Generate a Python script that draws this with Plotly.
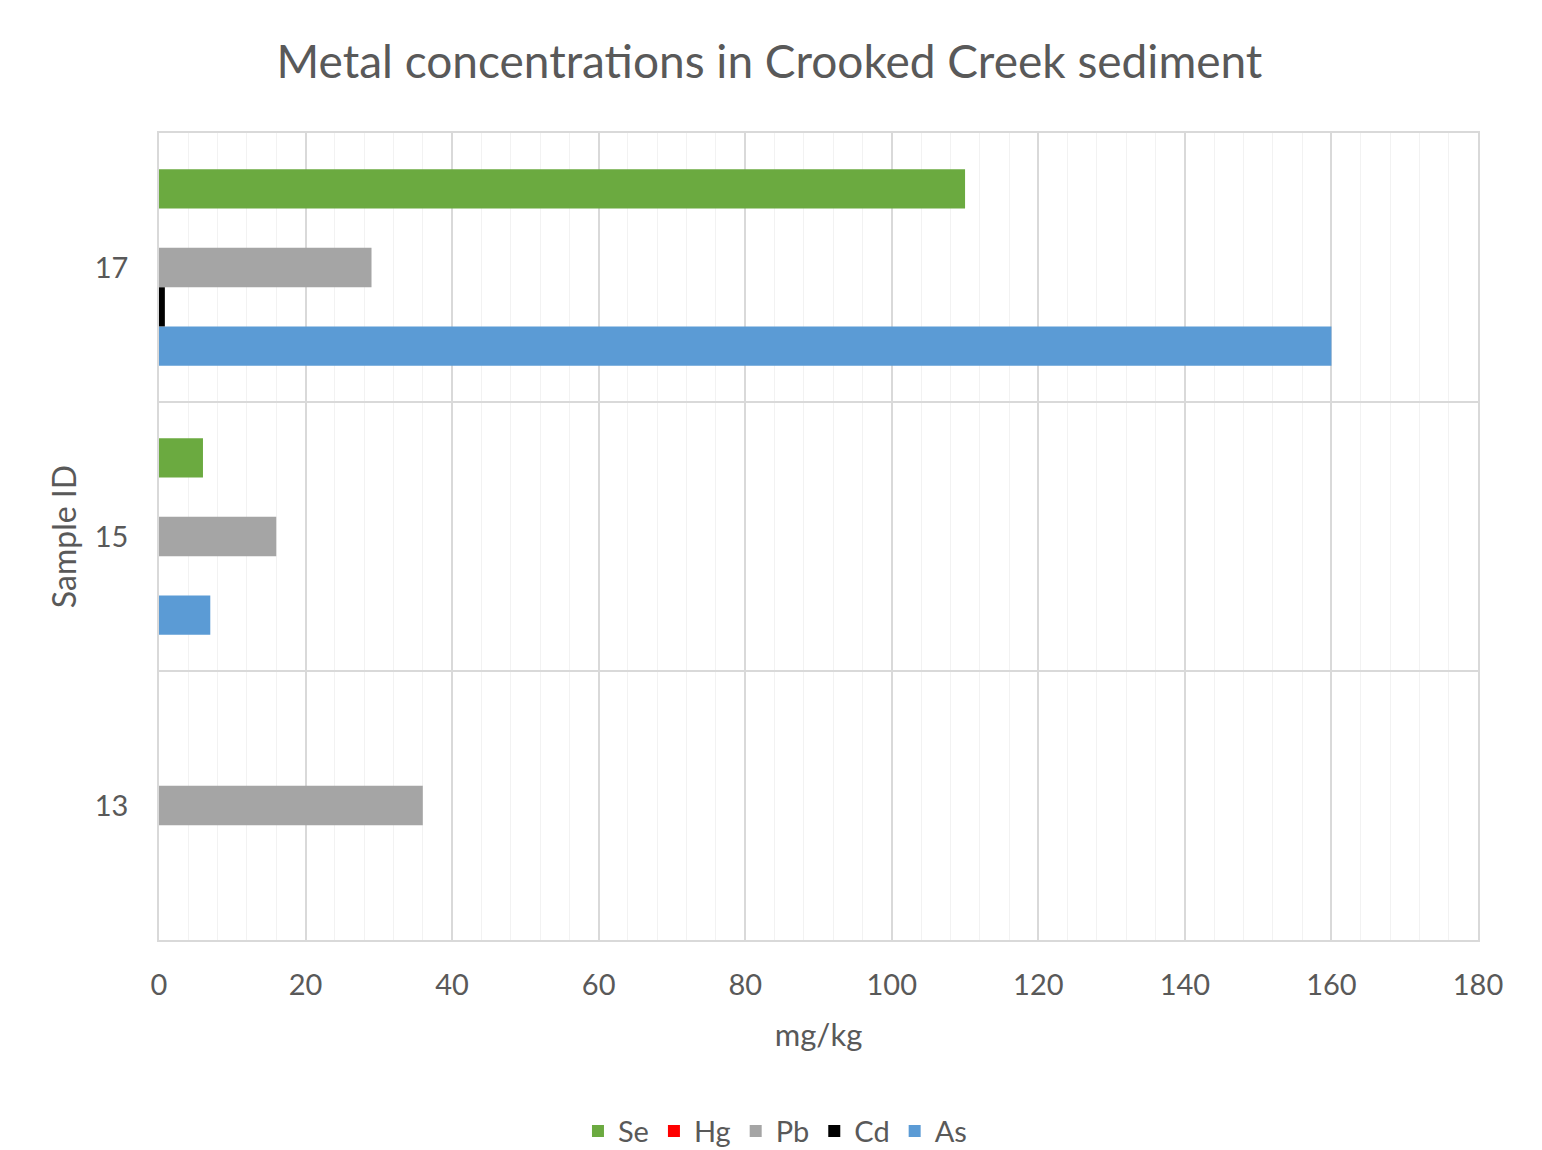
import plotly.graph_objects as go

samples = ["13", "15", "17"]
se = [None, 6.0, 110.0]
hg = [None, None, 0.0]
pb = [36.0, 16.0, 29.0]
cd = [None, None, 0.8]
as_ = [None, 7.0, 160.0]

series = [
    ("As", as_, "#5B9BD5"),
    ("Cd", cd, "#000000"),
    ("Pb", pb, "#A5A5A5"),
    ("Hg", hg, "#FF0000"),
    ("Se", se, "#6BAA40"),
]

FONT = "Lato, 'Open Sans', sans-serif"
TXT = "#595959"

fig = go.Figure()
for name, vals, col in series:
    fig.add_trace(go.Bar(
        y=samples, x=vals, name=name, orientation="h",
        marker=dict(color=col, line=dict(width=0)),
    ))

fig.update_layout(
    width=1542, height=1150,
    margin=dict(l=159, r=64, t=133, b=210, autoexpand=False),
    paper_bgcolor="white", plot_bgcolor="white",
    barmode="group", bargap=0.27, bargroupgap=0,
    font=dict(family=FONT, color=TXT),
    title=dict(text="Metal concentrations in Crooked Creek sediment",
               x=0.499, xanchor="center", xref="container",
               y=0.946, yanchor="middle", yref="container",
               font=dict(size=46, color=TXT, family=FONT)),
    legend=dict(orientation="h", traceorder="reversed",
                x=0.467, xanchor="center", y=-0.237, yanchor="middle",
                font=dict(size=29, color=TXT), itemwidth=30,
                itemsizing="constant"),
    showlegend=True,
)

fig.update_xaxes(
    range=[0, 180], dtick=20, tick0=0, automargin=False,
    showgrid=True, gridcolor="#D9D9D9", gridwidth=1.5,
    minor=dict(dtick=4, tick0=0, showgrid=True, gridcolor="#F2F2F2", gridwidth=1),
    showline=True, linecolor="#D9D9D9", linewidth=1.5, mirror=True,
    zeroline=False,
    ticks="outside", ticklen=18, tickcolor="rgba(0,0,0,0)",
    tickfont=dict(size=29, color=TXT),
    title=dict(text="mg/kg", font=dict(size=31, color=TXT), standoff=25),
)

fig.update_yaxes(
    type="category", categoryorder="array", categoryarray=samples,
    tickson="boundaries", automargin=False,
    showgrid=True, gridcolor="#D9D9D9", gridwidth=1.5,
    showline=True, linecolor="#D9D9D9", linewidth=1.5, mirror=True,
    ticks="", ticklabelstandoff=23,
    tickfont=dict(size=29, color=TXT),
    title=dict(text="Sample ID", font=dict(size=32, color=TXT), standoff=9),
)

fig.write_html("out.html")
